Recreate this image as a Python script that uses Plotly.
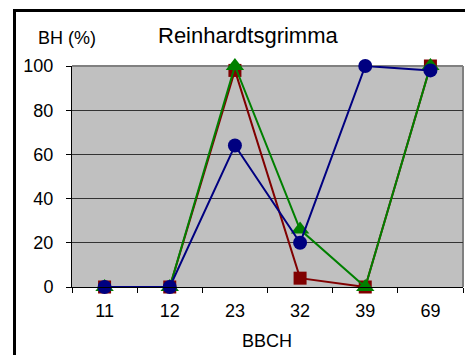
import plotly.graph_objects as go

categories = ["11", "12", "23", "32", "39", "69"]
series_red = [0, 0, 98, 4, 0, 100]
series_green = [0, 0, 100, 26, 0, 100]
series_blue = [0, 0, 64, 20, 100, 98]
y_ticks = [0, 20, 40, 60, 80, 100]

# page body has an 8px margin, so the figure is drawn 8px smaller/offset
OFF = 8
W, H = 473 - OFF, 355 - OFF
L, T = 72 - OFF, 66 - OFF
R = W - (463 - OFF)
B = H - (287 - OFF)
pw, ph = W - L - R, H - T - B

def px(x):
    return (x - OFF - L) / pw

def py(y):
    return (H - B - (y - OFF)) / ph

font = "Liberation Sans, Arial, sans-serif"
fig = go.Figure()

for vals, col, sym, sz in [
    (series_red, "#800000", "square", 13),
    (series_green, "#008000", "triangle-up", 16),
    (series_blue, "#000080", "circle", 14),
]:
    fig.add_trace(go.Scatter(
        x=categories, y=vals, mode="lines+markers",
        line=dict(color=col, width=2),
        marker=dict(color=col, size=sz, symbol=sym),
        cliponaxis=False, showlegend=False,
    ))

fig.update_layout(
    width=W, height=H,
    margin=dict(l=L, r=R, t=T, b=B),
    paper_bgcolor="white",
    plot_bgcolor="#c0c0c0",
    font=dict(family=font, size=18, color="black"),
    xaxis=dict(
        type="category", range=[-0.5, 5.5],
        showline=True, linecolor="black", linewidth=1,
        ticks="outside", tickson="boundaries", ticklen=5, tickcolor="black",
        showgrid=False, ticklabelstandoff=7,
        tickfont=dict(size=18),
    ),
    yaxis=dict(
        range=[0, 100], tickvals=y_ticks,
        showline=True, linecolor="black", linewidth=1,
        ticks="outside", ticklen=5, tickcolor="black",
        showgrid=True, gridcolor="#333333", gridwidth=1,
        zeroline=False, ticklabelstandoff=9,
        tickfont=dict(size=18),
    ),
    shapes=[
        dict(type="line", xref="paper", yref="paper", x0=0, x1=1, y0=1, y1=1,
             line=dict(color="#808080", width=2), layer="below"),
        dict(type="line", xref="paper", yref="paper", x0=1, x1=1, y0=0, y1=1,
             line=dict(color="#808080", width=2), layer="below"),
        dict(type="rect", xref="paper", yref="paper",
             x0=px(14.5), x1=px(490), y0=py(370), y1=py(10.5),
             line=dict(color="black", width=3), fillcolor="rgba(0,0,0,0)"),
    ],
    annotations=[
        dict(text="Reinhardtsgrimma", xref="paper", yref="paper",
             x=px(248), y=py(35), xanchor="center", yanchor="middle",
             showarrow=False, font=dict(size=22)),
        dict(text="BH (%)", xref="paper", yref="paper",
             x=px(67), y=py(38), xanchor="center", yanchor="middle",
             showarrow=False, font=dict(size=18)),
        dict(text="BBCH", xref="paper", yref="paper",
             x=px(267), y=py(341), xanchor="center", yanchor="middle",
             showarrow=False, font=dict(size=18)),
    ],
)

fig.write_html("out.html")
